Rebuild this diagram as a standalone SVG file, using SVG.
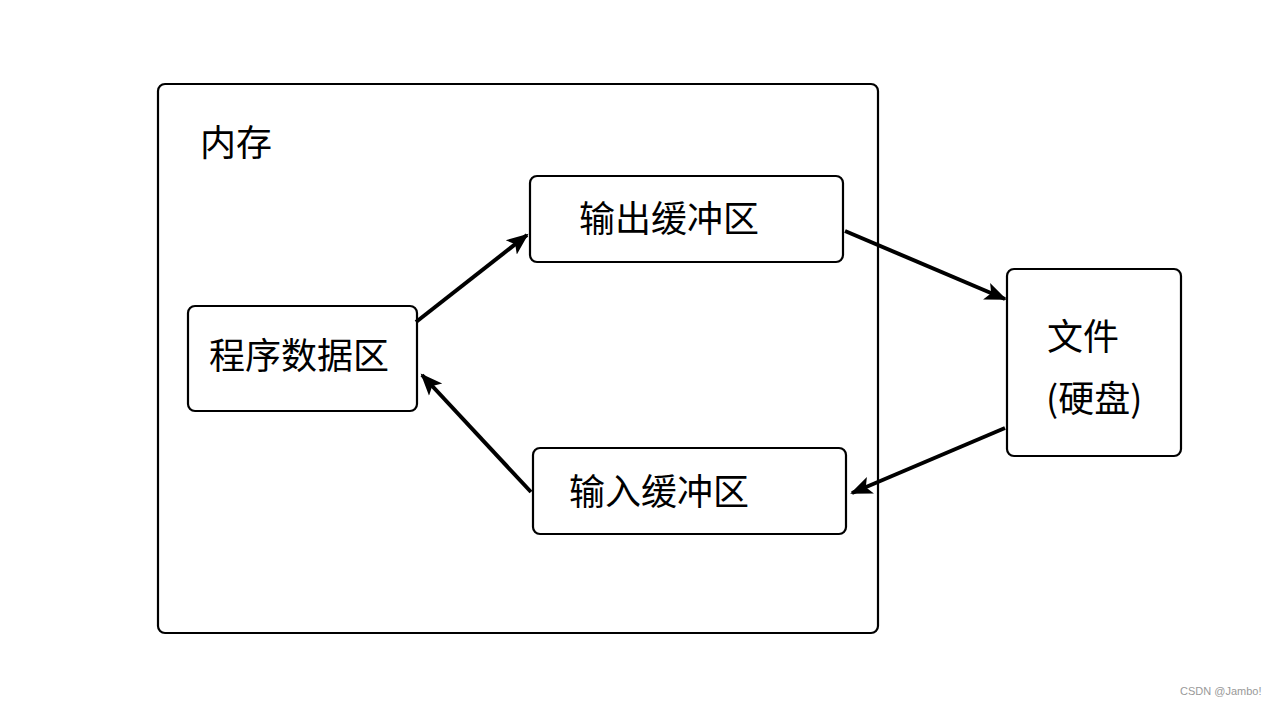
<svg xmlns="http://www.w3.org/2000/svg" width="1275" height="706" viewBox="0 0 1275 706">
<style>
.box{fill:#fff;stroke:#000;stroke-width:2.2}
.t{font-family:"Noto Sans CJK SC","Liberation Sans",sans-serif;font-size:36px;fill:#000}
.c{stroke:#000;stroke-width:4;fill:none}
.wm{font-family:"Liberation Sans",Arial,sans-serif;font-size:11px;fill:#999}
</style>
<defs>
<marker id="ah" markerUnits="userSpaceOnUse" markerWidth="24" markerHeight="20" refX="20" refY="9" orient="auto" viewBox="0 0 24 18">
<path d="M0,0 L22,9 L0,18 L5,9 Z" fill="#000"/>
</marker>
</defs>
<rect width="1275" height="706" fill="#fff"/>
<g id="memory">
<rect class="box" x="158" y="84" width="720" height="549" rx="7"/>
<text class="t" x="200" y="156">内存</text>
</g>
<g id="output-buffer">
<rect class="box" x="530" y="176" width="313" height="86" rx="7"/>
<text class="t" x="669" y="232" text-anchor="middle">输出缓冲区</text>
</g>
<g id="program-data">
<rect class="box" x="188" y="306" width="229" height="105" rx="7"/>
<text class="t" x="299" y="369" text-anchor="middle">程序数据区</text>
</g>
<g id="input-buffer">
<rect class="box" x="533" y="448" width="313" height="86" rx="7"/>
<text class="t" x="659" y="505" text-anchor="middle">输入缓冲区</text>
</g>
<g id="file">
<rect class="box" x="1007" y="269" width="174" height="187" rx="7"/>
<text class="t" x="1047" y="350">文件</text>
<text class="t" x="1046" y="412">(硬盘)</text>
</g>
<g id="connectors">
<line class="c" x1="416" y1="322" x2="527" y2="235" marker-end="url(#ah)"/>
<line class="c" x1="845" y1="231" x2="1005" y2="299" marker-end="url(#ah)"/>
<line class="c" x1="1005" y1="428" x2="852" y2="493" marker-end="url(#ah)"/>
<line class="c" x1="531" y1="492" x2="422" y2="375" marker-end="url(#ah)"/>
</g>
<text class="wm" x="1180" y="695">CSDN @Jambo!</text>
</svg>
